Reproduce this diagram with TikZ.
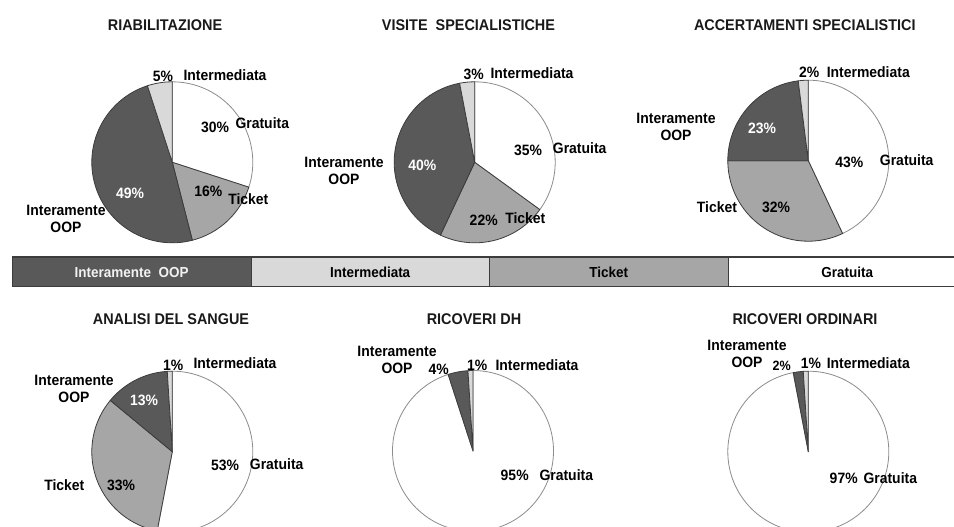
\documentclass[tikz,border=0pt]{standalone}
\usepackage{fontspec}
\setmainfont[FakeStretch=0.93]{Liberation Sans}
\definecolor{cOOP}{HTML}{595959}
\definecolor{cInt}{HTML}{D9D9D9}
\definecolor{cTic}{HTML}{A6A6A6}
\definecolor{cGra}{HTML}{FFFFFF}
\definecolor{cEdge}{HTML}{3C3C3C}
\definecolor{cRim}{HTML}{8C8C8C}
\def\pieR{80.5}
% one pie slice: centre, start angle, end angle (clockwise, y axis points up), fill, outline
\newcommand{\pieslice}[5]{%
  \pgfmathsetmacro{\slA}{-(#2)}\pgfmathsetmacro{\slB}{-(#3)}%
  \filldraw[fill=#4, draw=#5, line width=0.8pt, line join=round]
    (#1) -- ++(\slA:\pieR) arc[start angle=\slA, end angle=\slB, radius=\pieR] -- cycle;}
\begin{document}
\begin{tikzpicture}[x=1pt,y=-1pt,
  title/.style={font=\bfseries\fontsize{15.5}{18}\selectfont, text=black!90, inner sep=0pt},
  lbl/.style={font=\bfseries\fontsize{15}{17.7}\selectfont, inner sep=0pt, align=center},
  wlbl/.style={lbl, text=white},
  legbox/.style={draw=cEdge, line width=0.8pt, minimum height=28.7pt, minimum width=238.5pt,
    inner sep=0pt, anchor=north west, font=\bfseries\fontsize{14.5}{17}\selectfont},
]
\useasboundingbox (0,0) rectangle (954,527);
\clip (0,0) rectangle (954,527);
\fill[white] (0,0) rectangle (954,527);

% ---------- pie centres ----------
\coordinate (p1) at (172.3,162.3);
\coordinate (p2) at (474.7,162.3);
\coordinate (p3) at (808.3,160.7);
\coordinate (p4) at (172.3,451.7);
\coordinate (p5) at (473.0,451.0);
\coordinate (p6) at (808.3,451.7);

% ---------- titles ----------
\node[title] (t1) at (165,25) {RIABILITAZIONE};
\node[title] (t2) at (468.5,25) {VISITE\ \ SPECIALISTICHE};
\node[title] (t3) at (804.8,25) {ACCERTAMENTI SPECIALISTICI};
\node[title] (t4) at (171,319) {ANALISI DEL SANGUE};
\node[title] (t5) at (474,319) {RICOVERI DH};
\node[title] (t6) at (805,319) {RICOVERI ORDINARI};

% ---------- RIABILITAZIONE ----------
\pieslice{p1}{90}{-18}{cGra}{cRim}
\pieslice{p1}{-18}{-75.6}{cTic}{cEdge}
\pieslice{p1}{-75.6}{-252}{cOOP}{cEdge}
\pieslice{p1}{-252}{-270}{cInt}{cEdge}
\node[lbl] (a1i) at (163,76) {5\%};
\node[lbl] (a1il) at (225,75) {Intermediata};
\node[lbl] (a1g) at (215,127.7) {30\%};
\node[lbl] (a1gl) at (262.3,122.7) {Gratuita};
\node[lbl] (a1t) at (208.3,191.7) {16\%};
\node[lbl] (a1tl) at (248.3,199) {Ticket};
\node[wlbl] (a1o) at (130,193.3) {49\%};
\node[lbl] (a1ol) at (66,219) {Interamente\\OOP};

% ---------- VISITE SPECIALISTICHE ----------
\pieslice{p2}{90}{-36}{cGra}{cRim}
\pieslice{p2}{-36}{-115.2}{cTic}{cEdge}
\pieslice{p2}{-115.2}{-259.2}{cOOP}{cEdge}
\pieslice{p2}{-259.2}{-270}{cInt}{cEdge}
\node[lbl] (a2i) at (473.7,74) {3\%};
\node[lbl] (a2il) at (532,73) {Intermediata};
\node[lbl] (a2g) at (528,150) {35\%};
\node[lbl] (a2gl) at (579.7,148) {Gratuita};
\node[lbl] (a2t) at (483.7,220) {22\%};
\node[lbl] (a2tl) at (525.3,218) {Ticket};
\node[wlbl] (a2o) at (422.3,165.7) {40\%};
\node[lbl] (a2ol) at (344,171) {Interamente\\OOP};

% ---------- ACCERTAMENTI SPECIALISTICI ----------
\pieslice{p3}{90}{-64.8}{cGra}{cRim}
\pieslice{p3}{-64.8}{-180}{cTic}{cEdge}
\pieslice{p3}{-180}{-262.8}{cOOP}{cEdge}
\pieslice{p3}{-262.8}{-270}{cInt}{cEdge}
\node[lbl] (a3i) at (809.3,72.7) {2\%};
\node[lbl] (a3il) at (868.3,72) {Intermediata};
\node[lbl] (a3g) at (849.3,162.3) {43\%};
\node[lbl] (a3gl) at (906.7,160) {Gratuita};
\node[lbl] (a3t) at (776,207) {32\%};
\node[lbl] (a3tl) at (717,207.3) {Ticket};
\node[wlbl] (a3o) at (762,128.3) {23\%};
\node[lbl] (a3ol) at (676,127) {Interamente\\OOP};

% ---------- ANALISI DEL SANGUE ----------
\pieslice{p4}{90}{-100.8}{cGra}{cRim}
\pieslice{p4}{-100.8}{-219.6}{cTic}{cEdge}
\pieslice{p4}{-219.6}{-266.4}{cOOP}{cEdge}
\pieslice{p4}{-266.4}{-270}{cInt}{cEdge}
\node[lbl] (a4i) at (173.3,365) {1\%};
\node[lbl] (a4il) at (235,363.3) {Intermediata};
\node[lbl] (a4g) at (225,465.7) {53\%};
\node[lbl] (a4gl) at (276.7,464) {Gratuita};
\node[lbl] (a4t) at (121,485) {33\%};
\node[lbl] (a4tl) at (64.3,485) {Ticket};
\node[wlbl] (a4o) at (144,400) {13\%};
\node[lbl] (a4ol) at (74,389) {Interamente\\OOP};

% ---------- RICOVERI DH ----------
\pieslice{p5}{90}{-252}{cGra}{cRim}
\pieslice{p5}{-252}{-266.4}{cOOP}{cEdge}
\pieslice{p5}{-266.4}{-270}{cInt}{cEdge}
\node[lbl] (a5i) at (477.3,365) {1\%};
\node[lbl] (a5il) at (537,365) {Intermediata};
\node[lbl] (a5g) at (514.7,475) {95\%};
\node[lbl] (a5gl) at (566.3,475) {Gratuita};
\node[lbl] (a5o) at (438.7,369) {4\%};
\node[lbl] (a5ol) at (397,360) {Interamente\\OOP};

% ---------- RICOVERI ORDINARI ----------
\pieslice{p6}{90}{-259.2}{cGra}{cRim}
\pieslice{p6}{-259.2}{-266.4}{cOOP}{cEdge}
\pieslice{p6}{-266.4}{-270}{cInt}{cEdge}
\node[lbl] (a6i) at (811,363.3) {1\%};
\node[lbl] (a6il) at (868.3,363) {Intermediata};
\node[lbl] (a6g) at (843.7,478.3) {97\%};
\node[lbl] (a6gl) at (890.3,478) {Gratuita};
\node[lbl, font=\bfseries\fontsize{13.5}{16}\selectfont] (a6o) at (781.7,365.7) {2\%};
\node[lbl] (a6ol) at (747,354) {Interamente\\OOP};

% ---------- legend bar ----------
\node[legbox, fill=cOOP, text=white!95!black] (l1) at (12,257.3) {Interamente\ \ OOP};
\node[legbox, fill=cInt] (l2) at (250.5,257.3) {Intermediata};
\node[legbox, fill=cTic] (l3) at (489,257.3) {Ticket};
\node[legbox, fill=cGra] (l4) at (727.5,257.3) {Gratuita};
\draw[cEdge, line width=1.8pt] (l1.north west) -- (l4.north east);
\end{tikzpicture}
\end{document}
